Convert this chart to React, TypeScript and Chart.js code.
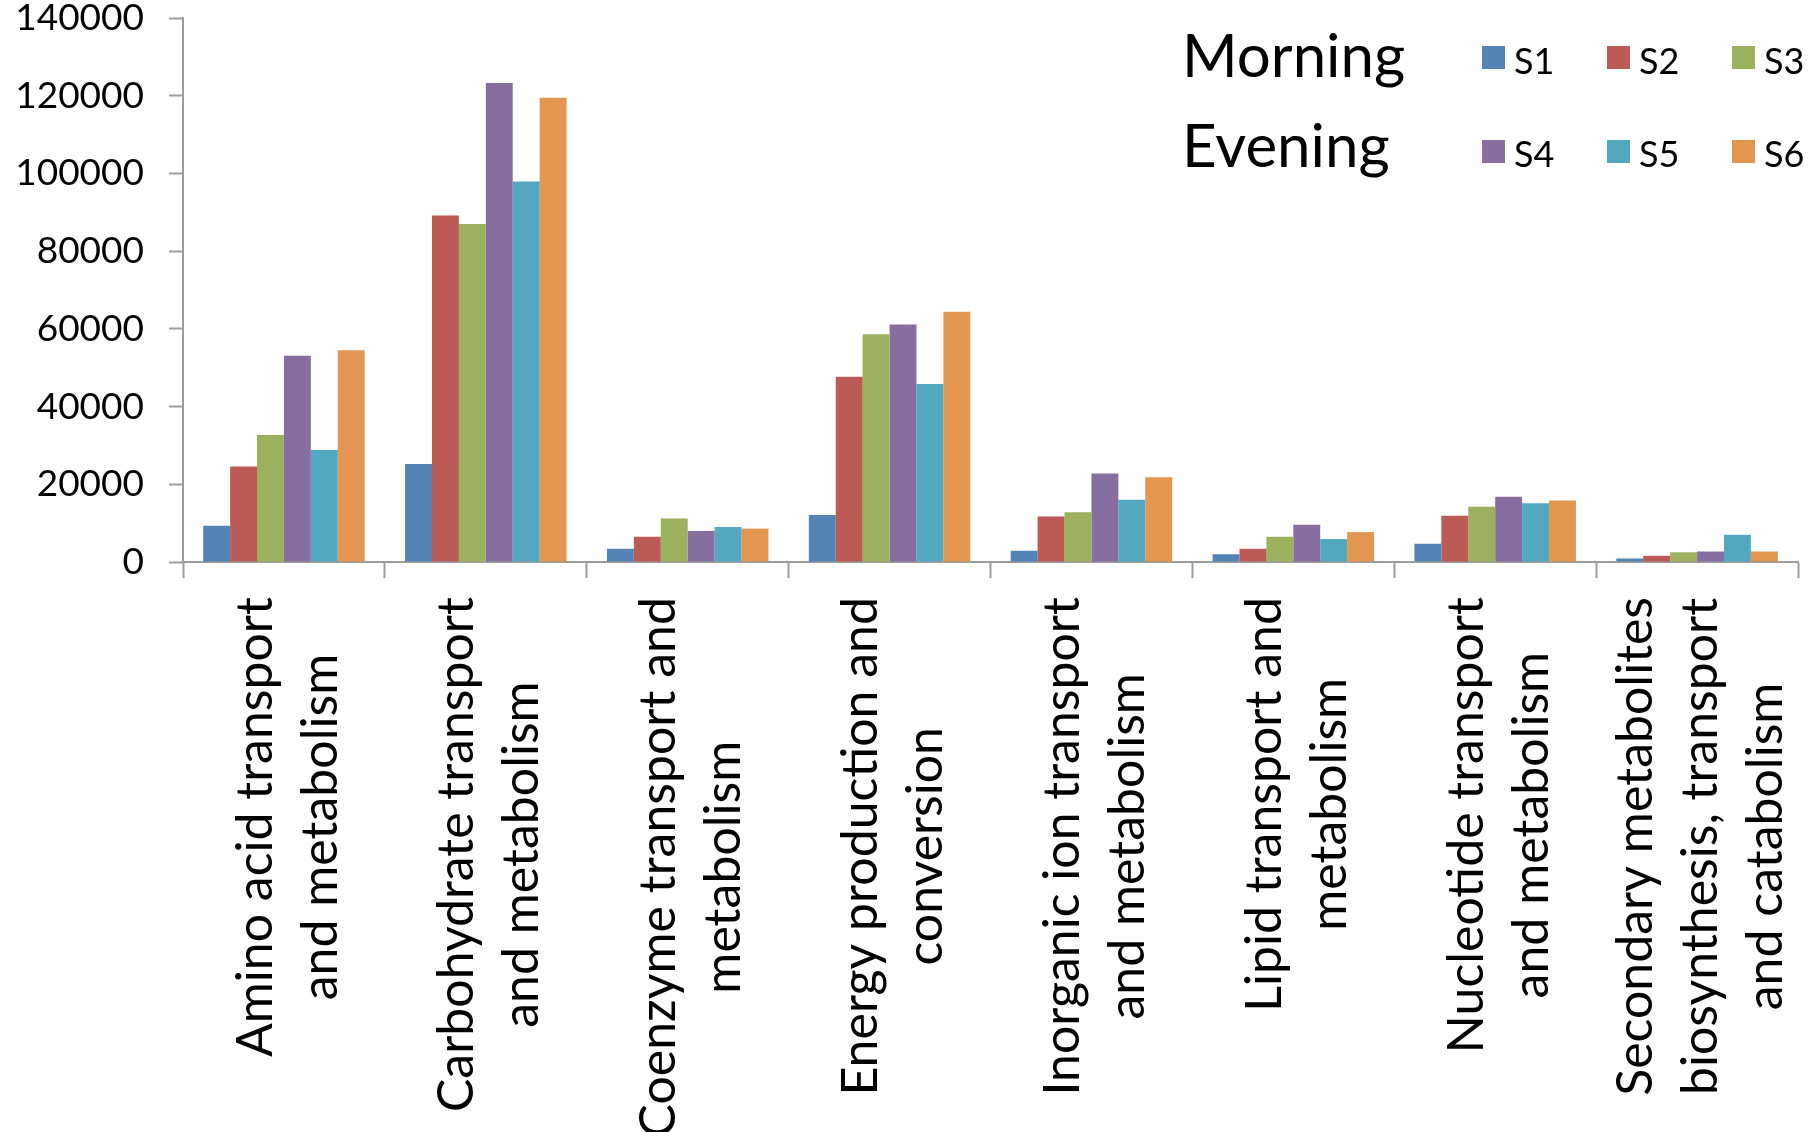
import React, { useEffect, useRef } from "react";
import { Chart, registerables } from "chart.js";

Chart.register(...registerables);

// COG functional categories (multi-line labels)
const categories: string[][] = [
  ["Amino acid transport", "and metabolism"],
  ["Carbohydrate transport", "and metabolism"],
  ["Coenzyme transport and", "metabolism"],
  ["Energy production and", "conversion"],
  ["Inorganic ion transport", "and metabolism"],
  ["Lipid transport and", "metabolism"],
  ["Nucleotide transport", "and metabolism"],
  ["Secondary metabolites", "biosynthesis, transport", "and catabolism"],
];

const seriesNames = ["S1", "S2", "S3", "S4", "S5", "S6"];
const groupNames = ["Morning", "Evening"];

const s1 = [9300, 25200, 3400, 12100, 2900, 2000, 4700, 900];
const s2 = [24600, 89200, 6500, 47700, 11700, 3400, 11900, 1600];
const s3 = [32700, 87000, 11200, 58600, 12800, 6500, 14200, 2500];
const s4 = [53100, 123300, 8000, 61100, 22800, 9600, 16800, 2700];
const s5 = [28800, 97900, 9000, 45800, 16000, 5900, 15100, 7000];
const s6 = [54500, 119500, 8600, 64400, 21800, 7700, 15800, 2700];

const seriesValues = [s1, s2, s3, s4, s5, s6];
const seriesColors = ["#5483B5", "#BC5A55", "#9BB15E", "#866EA0", "#51A8BF", "#E3964F"];

const yMin = 0;
const yMax = 140000;
const yStep = 20000;

// layout constants (pixels)
const W = 1818;
const H = 1132;
const PLOT_LEFT = 183;
const PLOT_RIGHT = 1798;
const PLOT_TOP = 18;
const PLOT_BOTTOM = 562;
const AXIS_COLOR = "#9d9d9d";
const FONT = "Lato, 'Open Sans', sans-serif";

const categoryLabelPlugin = {
  id: "categoryLabels",
  afterDraw(chart: any) {
    const xs = chart.scales.x;
    const ctx = chart.ctx as CanvasRenderingContext2D;
    const lineH = 65;
    ctx.save();
    ctx.font = `50px ${FONT}`;
    ctx.fillStyle = "#000";
    ctx.textAlign = "center";
    ctx.textBaseline = "middle";
    categories.forEach((lines, i) => {
      const cx = xs.getPixelForValue(i) + 4;
      const maxW = Math.max(...lines.map((l) => ctx.measureText(l).width));
      const top = xs.top + 35;
      const n = lines.length;
      ctx.save();
      ctx.translate(cx, top + maxW / 2);
      ctx.rotate(-Math.PI / 2);
      lines.forEach((l, j) => ctx.fillText(l, 0, (j - (n - 1) / 2) * lineH));
      ctx.restore();
    });
    ctx.restore();
  },
};

const groupLegendPlugin = {
  id: "groupLegend",
  afterDraw(chart: any) {
    const ctx = chart.ctx as CanvasRenderingContext2D;
    const datasets = chart.data.datasets;
    const textX = 1182;
    const rowBase = [77, 167];
    const boxX0 = 1482;
    const colStep = 125;
    const box = 23;
    ctx.save();
    ctx.fillStyle = "#000";
    ctx.textAlign = "left";
    ctx.textBaseline = "alphabetic";
    ctx.font = `60px ${FONT}`;
    groupNames.forEach((g, r) => ctx.fillText(g, textX, rowBase[r]));
    ctx.font = `36px ${FONT}`;
    datasets.forEach((ds: any, k: number) => {
      const r = Math.floor(k / 3);
      const c = k % 3;
      const x = boxX0 + c * colStep;
      const y = 46 + r * 94;
      ctx.fillStyle = ds.backgroundColor;
      ctx.fillRect(x, y, box, box);
      ctx.fillStyle = "#000";
      ctx.fillText(ds.label, x + 32, 74 + r * 93);
    });
    ctx.restore();
  },
};

export default function App() {
  const canvasRef = useRef<HTMLCanvasElement | null>(null);

  useEffect(() => {
    document.body.style.margin = "0";
    const canvas = canvasRef.current;
    if (!canvas) return;
    const chart = new Chart(canvas, {
      type: "bar",
      data: {
        labels: categories.map((c) => c.join(" ")),
        datasets: seriesNames.map((name, k) => ({
          label: name,
          data: seriesValues[k],
          backgroundColor: seriesColors[k],
          borderWidth: 0,
          categoryPercentage: 0.8,
          barPercentage: 1.0,
        })),
      },
      options: {
        responsive: false,
        animation: false,
        layout: {
          padding: { left: 0, top: PLOT_TOP, right: W - PLOT_RIGHT, bottom: 0 },
        },
        plugins: {
          legend: { display: false },
          tooltip: { enabled: false },
        },
        scales: {
          x: {
            offset: true,
            grid: {
              display: true,
              drawOnChartArea: false,
              drawTicks: true,
              tickLength: 16,
              tickWidth: 2,
              tickColor: AXIS_COLOR,
              offset: true,
            },
            border: { display: true, color: AXIS_COLOR, width: 2 },
            ticks: { display: false },
            afterFit: (scale: any) => {
              scale.height = H - PLOT_BOTTOM;
              scale.paddingLeft = 0;
              scale.paddingRight = 0;
            },
          },
          y: {
            min: yMin,
            max: yMax,
            grid: {
              display: true,
              drawOnChartArea: false,
              drawTicks: true,
              tickLength: 14,
              tickWidth: 2,
              tickColor: AXIS_COLOR,
            },
            border: { display: true, color: AXIS_COLOR, width: 2 },
            ticks: {
              stepSize: yStep,
              padding: 25,
              color: "#000",
              font: { family: FONT, size: 37, lineHeight: 1 },
              callback: (v: any) => String(v),
            },
            afterFit: (scale: any) => {
              scale.width = PLOT_LEFT;
              scale.paddingTop = 0;
              scale.paddingBottom = 0;
            },
          },
        },
      },
      plugins: [categoryLabelPlugin, groupLegendPlugin],
    });
    return () => chart.destroy();
  }, []);

  return (
    <div style={{ width: W, height: H, background: "#fff" }}>
      <canvas ref={canvasRef} width={W} height={H} style={{ display: "block" }} />
    </div>
  );
}
